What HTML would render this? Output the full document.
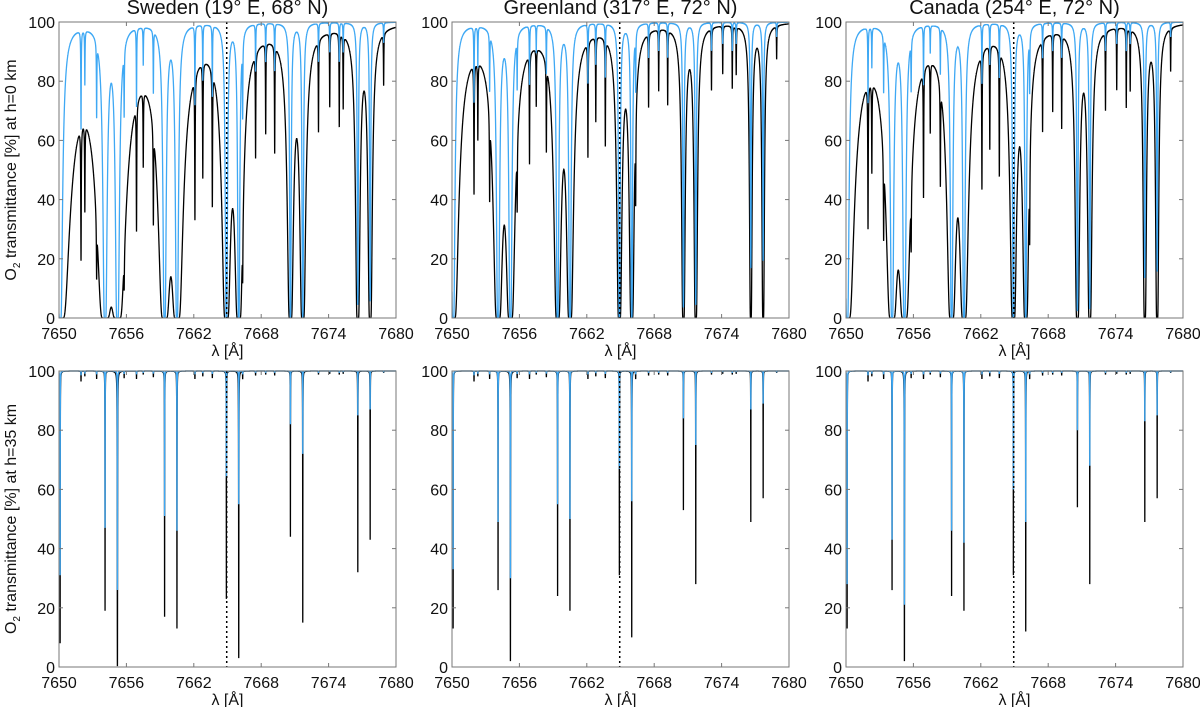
<!DOCTYPE html>
<html><head><meta charset="utf-8"><style>
html,body{margin:0;padding:0;background:#fff;}
svg{display:block;font-family:"Liberation Sans",sans-serif;}
</style></head><body>
<svg id="fig" width="1200" height="707" viewBox="0 0 1200 707"></svg>
<script>
// ---- data ----
const lineCenters = [7649.0,7650.1,7654.1,7655.2,7659.4,7660.5,7664.9,7666.0,7670.6,7671.7,7676.6,7677.7];
const lineStrengths = [0.75,0.65,0.5,0.48,0.3,0.28,0.15,0.14,0.075,0.07,0.04,0.037];
const topBlackK = [1.0,0.35,0.55];
const topBlueK = [0.07,0.04,0.045];
const weakCenters = [7651.96,7652.3,7653.35,7655.8,7656.9,7657.5,7658.4,7662.1,7662.8,7663.65,7666.35,7667.5,7668.4,7669.2,7673.1,7674.1,7674.95,7675.3,7678.9];
const weakTau = [1.2,0.6,0.9,0.8,0.9,0.4,0.7,0.9,0.6,0.8,0.9,0.5,0.4,0.5,0.4,0.3,0.4,0.3,0.2];
const weakBlackK = [1.0,0.6,0.8];
const weakBlueK = [0.35,0.25,0.25];
const bottomCenters = [7650.1,7654.1,7655.2,7659.4,7660.5,7664.9,7666.0,7670.6,7671.7,7676.6,7677.7];
const bottomBlackMin = [[8,19,0,17,13,23,3,44,15,32,43],[13,26,2,24,19,31,10,53,28,49,57],[13,26,2,24,19,31,12,54,28,49,57]];
const bottomBlueMin = [[31,47,26,51,46,64,55,82,72,85,87],[33,49,30,55,50,67,56,84,75,87,89],[28,43,21,46,42,60,49,80,68,83,85]];
const titles = ["Sweden (19° E, 68° N)","Greenland (317° E, 72° N)","Canada (254° E, 72° N)"];
const xTicks = [7650,7656,7662,7668,7674,7680];
const yTicks = [0,20,40,60,80,100];
const markerLambda = 7664.93;

// ---- layout ----
const NS="http://www.w3.org/2000/svg";
const svg=document.getElementById('fig');
const lefts=[59,452,846], W=337;
const rows=[{top:22,bot:318},{top:371,bot:667}];
const X0=7650,X1=7680;
function el(t,a,p){const e=document.createElementNS(NS,t);for(const k in a)e.setAttribute(k,a[k]);(p||svg).appendChild(e);return e;}

function topT(l,kB,kW){let tau=0;for(let i=0;i<lineCenters.length;i++){const d=l-lineCenters[i];tau+=kB*lineStrengths[i]/(d*d+0.0009);}
 for(let i=0;i<weakCenters.length;i++){const d=l-weakCenters[i];tau+=kW*weakTau[i]*0.0004/(d*d+0.0004);}
 return 100*Math.exp(-tau);}
function botT(l,mins,kW){let tau=0;const w2=0.006*0.006;for(let i=0;i<bottomCenters.length;i++){const d=l-bottomCenters[i];const tc=-Math.log(Math.max(mins[i],0.3)/100);tau+=tc*w2/(d*d+w2);}
 for(let i=0;i<weakCenters.length;i++){const d=l-weakCenters[i];tau+=kW*weakTau[i]*0.0001/(d*d+0.0001);}
 return 100*Math.exp(-tau);}

for(let r=0;r<2;r++){for(let p=0;p<3;p++){
 const L=lefts[p],T=rows[r].top,B=rows[r].bot,H=B-T;
 const g=el('g',{});
 
 
 const sx=l=>L+(l-X0)/(X1-X0)*W, sy=v=>B-v/100*H;
 const cid='clip'+r+p;
 const cp=el('clipPath',{id:cid},g);el('rect',{x:L,y:T-1,width:W,height:H+1},cp);
 function series(fn,color,name,step){let pts=[];for(let l=X0;l<=X1+1e-9;l+=step){pts.push(sx(l).toFixed(2)+','+sy(Math.min(fn(l),100)).toFixed(1));}
  const pl=el('polyline',{points:pts.join(' '),fill:'none',stroke:color,'stroke-width':1.3,'clip-path':'url(#'+cid+')'},g);
  
  }
 if(r===0){
  series(l=>topT(l,topBlackK[p],weakBlackK[p]),'#000','black-transmittance-line',0.004);
  series(l=>topT(l,topBlueK[p],weakBlueK[p]),'#3ea8f4','blue-transmittance-line',0.004);
 }else{
  series(l=>botT(l,bottomBlackMin[p],0.03),'#000','black-transmittance-line',0.002);
  series(l=>botT(l,bottomBlueMin[p],0.012),'#3ea8f4','blue-transmittance-line',0.002);
 }
 const mx=sx(markerLambda);
 const ml=el('line',{x1:mx,y1:T,x2:mx,y2:B,stroke:'#000','stroke-width':1.5,'stroke-dasharray':'2,3'},g);
 
 
 const fr=el('rect',{x:L,y:T,width:W,height:H,fill:'none',stroke:'#777','stroke-width':1},g);
 
 
 for(const t of xTicks){const x=sx(t);
  el('line',{x1:x,y1:B,x2:x,y2:B-4,stroke:'#777'},g);el('line',{x1:x,y1:T,x2:x,y2:T+4,stroke:'#777'},g);
  const tx=el('text',{x:x,y:B+21,'text-anchor':'middle','font-size':16,fill:'#111'},g);tx.textContent=t;
  
  }
 for(const t of yTicks){const y=sy(t);
  el('line',{x1:L,y1:y,x2:L+4,y2:y,stroke:'#777'},g);el('line',{x1:L+W,y1:y,x2:L+W-4,y2:y,stroke:'#777'},g);
  const ty=el('text',{x:L-4,y:y+6,'text-anchor':'end','font-size':16,fill:'#111'},g);ty.textContent=t;
  
  }
 const xl=el('text',{x:L+W/2,y:B+38,'text-anchor':'middle','font-size':16,fill:'#111'},g);xl.textContent='λ [Å]';
 
 
 if(r===0){const tt=el('text',{x:L+W/2,y:14,'text-anchor':'middle','font-size':20,fill:'#111'},g);tt.textContent=titles[p];
  
  }
 if(p===0){const cy=(T+B)/2;
  const yl=el('text',{x:0,y:0,transform:'translate(16,'+cy+') rotate(-90)','text-anchor':'middle','font-size':16,fill:'#111'},g);
  yl.innerHTML='O<tspan font-size="10" dy="4">2</tspan><tspan dy="-4"> transmittance [%]  at h='+(r?'35':'0')+' km</tspan>';
  
  }
}}
</script>
</body></html>
